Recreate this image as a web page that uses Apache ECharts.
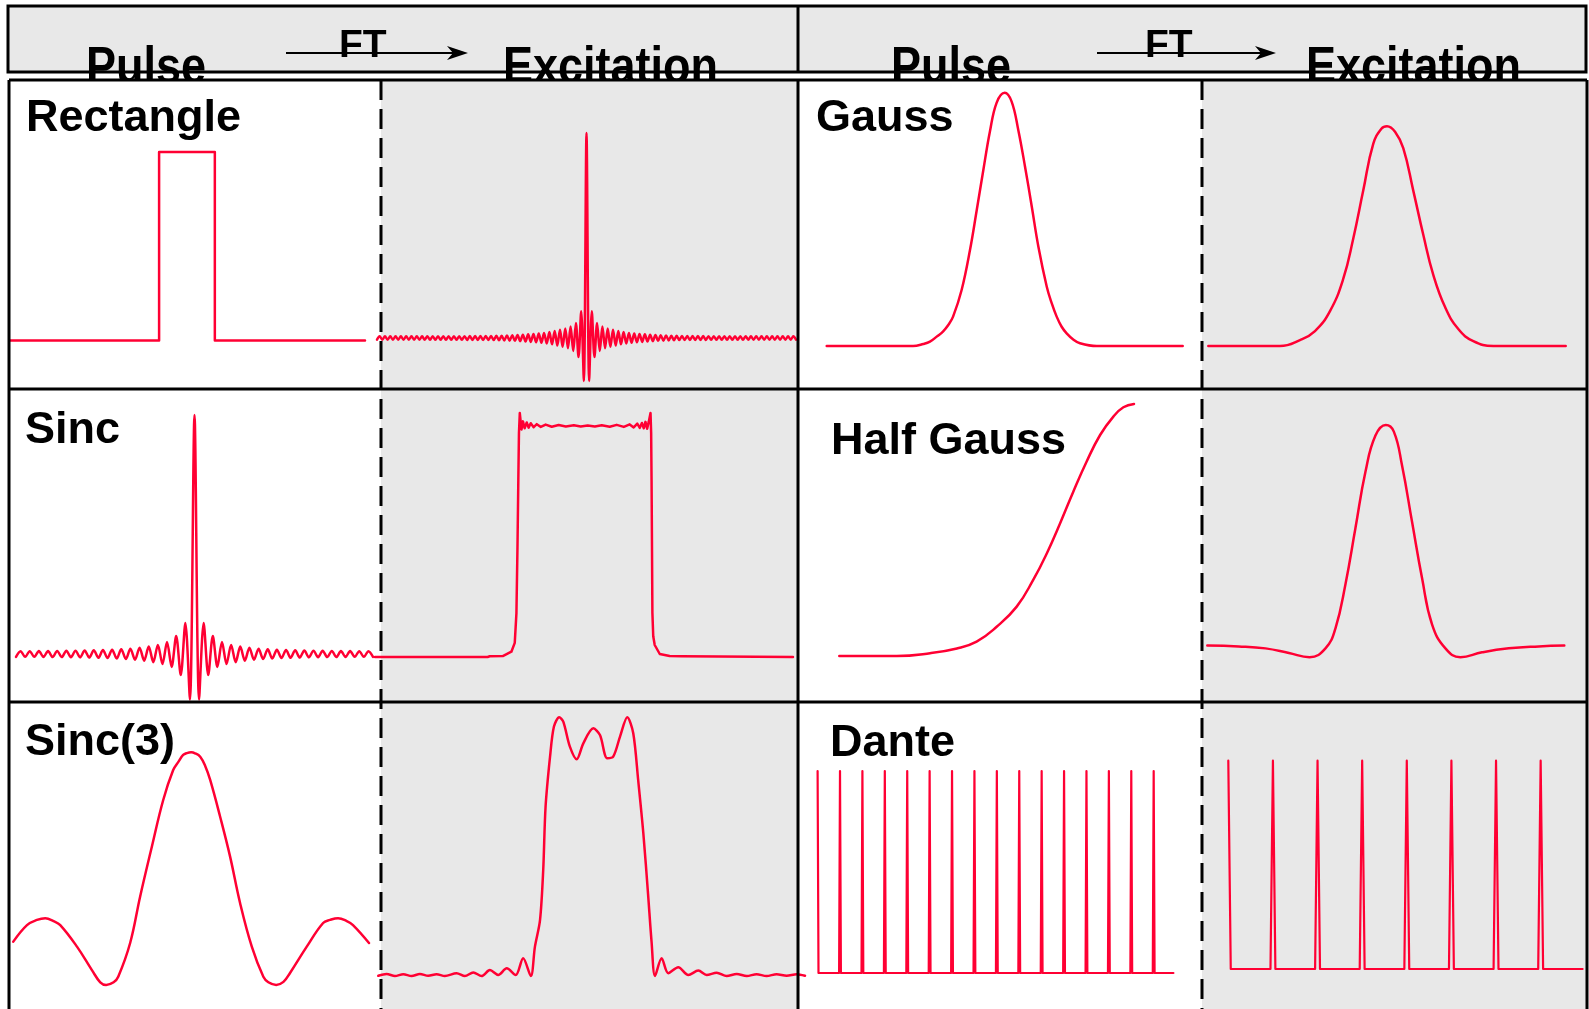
<!DOCTYPE html>
<html>
<head>
<meta charset="utf-8">
<script src="https://cdn.jsdelivr.net/npm/echarts@6/dist/echarts.min.js"></script>
<style>
  html, body { margin: 0; padding: 0; background: #fff; }
  #c { width: 1589px; height: 1009px; }
</style>
</head>
<body>
<div id="c"></div>
<script>
// ---------- Data (amplitude in % of the main peak, 0 = baseline) ----------

// Rectangle pulse (time) and its excitation profile (frequency)
const rectPulseT = [0, 42, 42, 57.7, 57.7, 100];
const rectPulseA = [0, 0, 100, 100, 0, 0];
const rectExcA = [
  -0.8,0.8,-0.8,0.8,-0.8,0.8,-0.8,0.8,-0.8,0.8,
  -0.8,0.8,-0.8,0.8,-0.8,0.8,-0.8,0.8,-0.8,
  0.9,-0.9,0.9,-0.9,0.9,-0.9,0.9,-0.9,0.9,-0.9,
  0.9,-0.9,0.9,-0.9,0.9,
  -0.95,0.95,-0.95,0.95,-0.95,0.95,-0.95,0.95,-0.95,0.95,
  -1.0,1.05,-1.1,1.15,-1.2,1.25,-1.3,1.35,-1.4,1.45,
  -1.5,1.6,-1.7,1.8,-1.9,2.0,-2.1,2.2,-2.3,2.5,
  -2.7,2.9,-3.1,3.4,-3.7,4.0,-4.3,4.6,-5.0,5.6,
  -6.3,7.3,-9.3,13,-21,
  100,
  -21,13,-9.3,7.3,-6.3,
  5.6,-5.0,4.6,-4.3,4.0,-3.7,3.4,-3.1,2.9,-2.7,
  2.5,-2.3,2.2,-2.1,2.0,-1.9,1.8,-1.7,1.6,-1.5,
  1.45,-1.4,1.35,-1.3,1.25,-1.2,1.15,-1.1,1.05,-1.0,
  0.95,-0.95,0.95,-0.95,0.95,-0.95,0.95,-0.95,0.95,-0.95,
  0.9,-0.9,0.9,-0.9,0.9,
  -0.9,0.9,-0.9,0.9,-0.9,0.9,-0.9,0.9,-0.9,0.9,
  -0.8,0.8,-0.8,0.8,-0.8,0.8,-0.8,0.8,-0.8,
  0.8,-0.8,0.8,-0.8,0.8,-0.8,0.8,-0.8,0.8,-0.8
];

// Sinc pulse and its (rectangular) excitation profile
const sincPulseA = [
  -1.2,1.2,-1.2,1.2,-1.2,1.25,-1.25,1.25,-1.3,1.3,
  -1.3,1.35,-1.35,1.4,-1.4,1.45,-1.5,1.55,-1.6,1.65,
  -1.7,1.8,-1.9,2.0,-2.1,2.2,-2.4,2.6,-2.8,3.1,
  -3.4,3.8,-4.2,5.0,-5.4,7.5,-8.8,13,-19,
  100,
  -19,13,-8.8,7.5,-5.4,5.0,-4.2,3.8,-3.4,3.1,
  -2.8,2.6,-2.4,2.2,-2.1,2.0,-1.9,1.8,-1.7,1.65,
  -1.6,1.55,-1.5,1.45,-1.4,1.4,-1.35,1.35,-1.3,1.3,
  -1.3,1.25,-1.25,1.25,-1.2,1.2,-1.2,1.2,-1.2
];
const sincExcF = [-100,-46.4,-45.4,-39.2,-35.1,-33.5,-32.7,-32.2,-31.8,-31.5,-31.1,-30.3,-29.6,-28.8,-27.8,-26.9,-25.9,-24.5,-23,-21.1,-18.8,-15.9,-12.6,-9.2,-5.4,-2.1,1.2,4.6,7.9,11.7,15,18.4,21.2,23.1,24.8,26,27,27.9,28.7,29.5,30.3,31.1,31.4,31.6,31.8,32,32.4,33.1,35.5,40.2,45.9,46.5,98.9];
const sincExcA = [0,0,0.3,0.4,2.3,6.1,19,47.7,76.6,97,105.6,98.5,102,99,101.5,99.3,101.2,99.5,100.8,99.6,100.6,99.7,100.4,99.8,100.3,99.8,100.2,99.8,100.3,99.7,100.5,99.6,100.7,99.4,101,99.2,101.3,99,101.8,98.8,102,105.6,97,76.6,47.7,19,9,5.2,1.3,0.4,0.3,0,0];

// Sinc(3) pulse and its excitation profile
const sinc3PulseT = [-100,-92.3,-86.7,-82,-77.4,-73.6,-64.2,-55.8,-51.1,-47.8,-43.6,-41,-34.3,-28.7,-22.1,-15.7,-10.1,-7.1,-4.5,-2.4,0,2.2,5.1,7.9,10.7,16.3,21.9,27.5,34.1,40.6,43.4,47.8,51.9,55.6,65,74.2,78.1,82.6,87.5,91,100];
const sinc3PulseA = [0.7,9.4,12.1,13,11.5,9.4,-1.9,-14.2,-20.6,-22,-20.6,-17.7,0,24.3,50.5,75,90.7,95.1,98.6,99.6,100,99.5,97.7,92.8,85.5,66.2,45.3,21,-1.9,-17.7,-20.6,-22,-20.4,-15.7,-1.9,10.5,12.1,13,11.5,9.4,0];
const sinc3ExcF = [-100,-96.1,-92.2,-88.3,-84.4,-80.5,-76.6,-72.7,-68.8,-63.3,-59.4,-55.5,-51.6,-47.7,-43.8,-39.8,-35.6,-32.1,-28.5,-26.6,-24.2,-22.7,-21.6,-19.5,-17.7,-15.2,-13.3,-10.2,-7,-3.9,0.8,3.9,7.3,10.1,13.3,16.7,19.5,21.8,24.2,26.5,28.1,29.7,32.8,35.9,40.6,45.3,50,53.9,58.6,63.3,68,72.7,77.3,82,86.7,91.4,96.1,100];
const sinc3ExcA = [-0.3,0.4,-0.4,0.3,-0.4,0.4,-0.3,0.3,-0.4,0.7,-0.4,1.0,-0.4,1.9,0,2.6,0,6.5,-0.4,10.9,21.3,40.7,65.2,84.6,96.2,99.9,98.2,88.5,83.6,89.8,95.6,93,84,84.6,92.4,99.9,93.7,75.6,55.2,30.7,12.7,-0.4,6.5,0.7,3.0,0,1.7,0,0.9,-0.4,0.4,-0.4,0.3,-0.4,0.3,-0.3,0.3,-0.3];

// Gauss pulse and its excitation profile
const gaussPulseT = [-100,-51.5,-45.7,-42,-38.2,-34.7,-31.7,-29,-24.2,-19.5,-15.7,-12,-8.3,-4.5,0,3.9,7.6,11.4,15.2,18.9,23.6,26.4,29.2,32,34.8,38.5,42.3,51.7,100];
const gaussPulseA = [0,0,0.8,1.7,3.7,5.7,8.3,11.6,22.1,37.9,53.7,69.5,84.7,96.1,100,96.5,85.4,70.9,55.1,39.3,23.5,16.9,11.6,7.6,5.0,2.6,1.1,0,0];
const gaussExcF = [-100,-59.9,-48.7,-40.3,-31.9,-24.5,-18.9,-13.3,-7.7,-3.0,0,4.5,9.1,14.7,20.3,25.9,32.5,39.9,48.3,59.5,100];
const gaussExcA = [0,0,2.7,6.8,15.9,30.5,48.8,70.7,92,99,100,97.5,90,70.7,50.6,32.4,17.7,7.7,2.2,0,0];

// Half Gauss pulse and its excitation profile
const halfGaussT = [0,19.5,30.8,39.9,46.6,53.4,60.2,65.8,70.4,74.9,79.4,83.9,88.5,93,96.4,100];
const halfGaussA = [0,0,1.1,3.0,5.7,11.6,19.6,30.2,40.7,52.6,65.2,77.1,87.7,95,98.7,100];
const halfGaussExcF = [-100,-82.4,-67.4,-54.3,-42.7,-33.8,-28.2,-22.6,-17,-11.4,-5.8,0,4.5,9.1,14.7,20.3,25.9,33.4,41.8,53.9,68.9,85.7,100];
const halfGaussExcA = [0,-0.4,-1.3,-3.4,-5.3,-1.3,7.8,27.8,53.3,78.8,95.2,100,97,81.6,56.1,30.6,9.6,-1.3,-5.3,-3.1,-1.3,-0.4,0];

// DANTE train: pulse times (in units of the pulse spacing) and the sideband comb
const dantePulseT = [0,1,2,3,4,5,6,7,8,9,10,11,12,13,14,15];
const dantePulseA = [100,100,100,100,100,100,100,100,100,100,100,100,100,100,100,100];
const dantePulseEnd = 15.88;
const danteExcF = [0,1,2,3,4,5,6,7];
const danteExcA = [100,100,100,100,100,100,100,100];
const danteExcEnd = 7.94;

// Text
const headerTexts = ['Pulse', 'FT', 'Excitation'];
const panelLabels = ['Rectangle', 'Sinc', 'Sinc(3)', 'Gauss', 'Half Gauss', 'Dante'];

// ---------- Helpers ----------
const pairs = (xs, ys) => xs.map((x, i) => [x, ys[i]]);
const indexed = ys => ys.map((y, i) => [i, y]);
function spikeTrain(times, amps, halfWidth, end) {
  const out = [];
  times.forEach((t, i) => {
    if (i === 0) out.push([t, amps[i]]);
    else { out.push([t - halfWidth, 0]); out.push([t, amps[i]]); }
    out.push([t + halfWidth, 0]);
  });
  out.push([end, 0]);
  return out;
}

// ---------- Layout ----------
const RED = '#ff0033';
const GRAY = '#e8e8e8';
const BOX_L = 9, BOX_R = 1587, BOX_T = 80, BOX_B = 1009;
const COL_MID = 798, DASH_1 = 381, DASH_2 = 1202;
const ROW_1 = 389, ROW_2 = 702;

// plot area per panel: x0..x1 horizontally, y0 = baseline pixel, y1 = pixel of 100 %
const panels = [
  { x0: 10,     x1: 365,    y0: 340.5, y1: 152,   data: pairs(rectPulseT, rectPulseA), smooth: false },
  { x0: 377,    x1: 796,    y0: 338,   y1: 133,   data: indexed(rectExcA), smooth: 0.3 },
  { x0: 826.7,  x1: 1182.7, y0: 346,   y1: 92.7,  data: pairs(gaussPulseT, gaussPulseA), smooth: 0.4 },
  { x0: 1208.3, x1: 1565.7, y0: 346,   y1: 126.2, data: pairs(gaussExcF, gaussExcA), smooth: 0.45 },
  { x0: 16,     x1: 373,    y0: 654,   y1: 415,   data: indexed(sincPulseA), smooth: 0.3 },
  { x0: 375,    x1: 793,    y0: 657,   y1: 426,   data: pairs(sincExcF, sincExcA), smooth: false },
  { x0: 839.3,  x1: 1134,   y0: 656,   y1: 404,   data: pairs(halfGaussT, halfGaussA), smooth: 0.45 },
  { x0: 1207.3, x1: 1564.3, y0: 645.5, y1: 425,   data: pairs(halfGaussExcF, halfGaussExcA), smooth: 0.45 },
  { x0: 13.3,   x1: 369,    y0: 943,   y1: 752.3, data: pairs(sinc3PulseT, sinc3PulseA), smooth: 0.4 },
  { x0: 378.3,  x1: 805,    y0: 975,   y1: 717,   data: pairs(sinc3ExcF, sinc3ExcA), smooth: 0.3 },
  { x0: 817.6,  x1: 1173.4, y0: 973,   y1: 771,   data: spikeTrain(dantePulseT, dantePulseA, 0.04, dantePulseEnd), smooth: false, width: 2.2 },
  { x0: 1228.3, x1: 1582.6, y0: 969,   y1: 760.7, data: spikeTrain(danteExcF, danteExcA, 0.055, danteExcEnd), smooth: false, width: 2.2 }
];

const grid = [], xAxis = [], yAxis = [], series = [];
panels.forEach((p, i) => {
  grid.push({ left: p.x0, top: p.y1, width: p.x1 - p.x0, height: p.y0 - p.y1, containLabel: false });
  xAxis.push({ type: 'value', gridIndex: i, min: p.data[0][0], max: p.data[p.data.length - 1][0], show: false });
  yAxis.push({ type: 'value', gridIndex: i, min: 0, max: 100, show: false });
  series.push({
    type: 'line', xAxisIndex: i, yAxisIndex: i, data: p.data,
    symbol: 'none', showSymbol: false, clip: false, smooth: p.smooth,
    lineStyle: { color: RED, width: p.width || 2.5, join: 'round', cap: 'round' },
    z: 5, silent: true, animation: false
  });
});

// ---------- Frame, headings and labels ----------
const FONT = '"Liberation Sans", Arial, sans-serif';
// text placed by its baseline; stretchY > 1 makes the glyphs taller, growing upwards
function label(text, x, baseline, size, z, stretchY) {
  return {
    type: 'text', z: z, silent: true,
    x: x, y: baseline, scaleY: stretchY || 1, originX: 0, originY: 0,
    style: {
      text: text, x: 0, y: -0.31 * size,
      font: 'bold ' + size + 'px ' + FONT, fill: '#000',
      align: 'left', verticalAlign: 'middle', textAlign: 'left', textVerticalAlign: 'middle'
    }
  };
}
function hline(x1, x2, y, z) {
  return { type: 'line', z: z, silent: true, shape: { x1: x1, y1: y, x2: x2, y2: y },
           style: { stroke: '#000', lineWidth: 3 } };
}
function vline(x, y1, y2, z, dash) {
  return { type: 'line', z: z, silent: true, shape: { x1: x, y1: y1, x2: x, y2: y2 },
           style: { stroke: '#000', lineWidth: 3, lineDash: dash || null } };
}
function arrow(x1, x2, y, z) {
  return [
    { type: 'line', z: z, silent: true, shape: { x1: x1, y1: y, x2: x2 - 6, y2: y }, style: { stroke: '#000', lineWidth: 2 } },
    { type: 'polygon', z: z, silent: true,
      shape: { points: [[x2, y], [x2 - 21, y - 7], [x2 - 15, y], [x2 - 21, y + 7]] },
      style: { fill: '#000' } }
  ];
}

const elements = [
  // heading strip
  { type: 'rect', z: 0, silent: true, shape: { x: 8, y: 6, width: 1578, height: 66 },
    style: { fill: GRAY, stroke: '#000', lineWidth: 3 } },
  vline(COL_MID, 6, 72, 0),
  label(headerTexts[0], 86, 85, 45, 1, 1.16),
  label(headerTexts[1], 339, 58, 39, 1),
  label(headerTexts[2], 503, 85, 45, 1, 1.16),
  label(headerTexts[0], 891, 85, 45, 1, 1.16),
  label(headerTexts[1], 1145, 58, 39, 1),
  label(headerTexts[2], 1306, 85, 45, 1, 1.16),
  ...arrow(286, 468, 53, 1),
  ...arrow(1097, 1276, 53, 1),

  // panel backgrounds
  { type: 'rect', z: 2, silent: true, shape: { x: BOX_L, y: BOX_T, width: BOX_R - BOX_L, height: BOX_B - BOX_T + 5 },
    style: { fill: '#fff' } },
  { type: 'rect', z: 2, silent: true, shape: { x: DASH_1, y: BOX_T, width: COL_MID - DASH_1, height: BOX_B - BOX_T + 5 },
    style: { fill: GRAY } },
  { type: 'rect', z: 2, silent: true, shape: { x: DASH_2, y: BOX_T, width: BOX_R - DASH_2, height: BOX_B - BOX_T + 5 },
    style: { fill: GRAY } },

  // table rules
  hline(BOX_L, BOX_R, BOX_T, 10),
  hline(BOX_L, BOX_R, ROW_1, 10),
  hline(BOX_L, BOX_R, ROW_2, 10),
  vline(BOX_L, BOX_T, BOX_B + 5, 10),
  vline(BOX_R, BOX_T, BOX_B + 5, 10),
  vline(COL_MID, BOX_T, BOX_B + 5, 10),
  vline(DASH_1, BOX_T, BOX_B + 5, 10, [20, 9]),
  vline(DASH_2, BOX_T, BOX_B + 5, 10, [20, 9]),

  // pulse names
  label(panelLabels[0], 26, 133, 45, 11),
  label(panelLabels[1], 25, 445, 45, 11),
  label(panelLabels[2], 25, 757, 45, 11),
  label(panelLabels[3], 816, 133, 45, 11),
  label(panelLabels[4], 831, 456, 45, 11),
  label(panelLabels[5], 830, 758, 45, 11)
];

const chart = echarts.init(document.getElementById('c'), null, { renderer: 'canvas', width: 1589, height: 1009 });
chart.setOption({
  animation: false,
  backgroundColor: '#fff',
  grid: grid, xAxis: xAxis, yAxis: yAxis, series: series,
  graphic: { elements: elements }
});
</script>
</body>
</html>
